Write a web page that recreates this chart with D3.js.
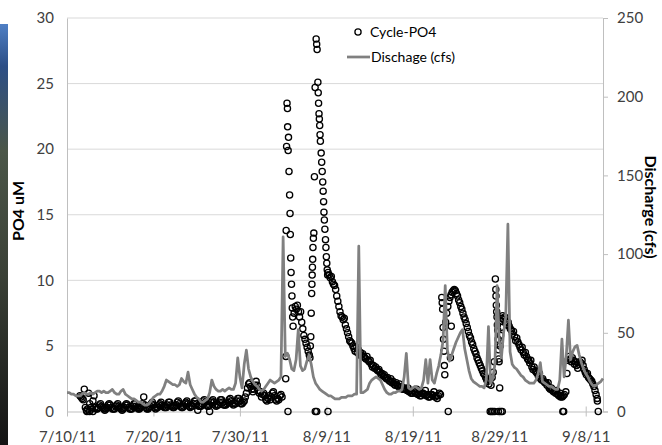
<!DOCTYPE html>
<html>
<head>
<meta charset="utf-8">
<script src="https://cdn.jsdelivr.net/npm/d3@7"></script>
<style>
  body { margin: 0; background: #fff; }
  text { font-family: Lato, "Open Sans", sans-serif; }
</style>
</head>
<body>
<svg id="chart" width="662" height="445"></svg>
<script>
// ---- data ----
const dateLabels = ["7/10/11", "7/20/11", "7/30/11", "8/9/11", "8/19/11", "8/29/11", "9/8/11"];
const po4Ticks = [0, 5, 10, 15, 20, 25, 30];
const flowTicks = [0, 50, 100, 150, 200, 250];

// discharge (cfs), one reading every 6 hours from 7/10/11 00:00
const flowStepHours = 6;
const discharge = [
  12, 12, 11, 11, 10, 10, 10, 11, 12, 11,
  11, 12, 11, 12, 13, 13, 12, 13, 12, 12,
  13, 14, 12, 11, 11, 13, 14, 11, 10, 9,
  8, 8, 7, 6, 6, 5, 4, 4, 5, 7,
  9, 10, 11, 11, 13, 16, 20, 19, 18, 17,
  17, 16, 17, 21, 19, 18, 25, 17, 14, 11,
  9, 8, 6, 6, 7, 8, 12, 20, 16, 14,
  13, 13, 14, 13, 14, 15, 14, 14, 18, 34,
  22, 15, 30, 39, 27, 22, 19, 17, 16, 14,
  13, 14, 16, 18, 20, 19, 18, 19, 20, 22,
  111, 35, 37, 33, 27, 26, 33, 52, 29, 26,
  27, 32, 36, 30, 22, 18, 16, 14, 13, 12,
  11, 10, 10, 9, 8, 8, 8, 9, 9, 9,
  10, 10, 10, 11, 11, 105, 12, 12, 13, 14,
  18, 20, 21, 22, 21, 20, 17, 14, 12, 11,
  11, 12, 12, 13, 13, 14, 22, 37, 15, 14,
  15, 16, 15, 14, 15, 20, 33, 18, 33, 20,
  18, 24, 29, 36, 45, 80, 39, 32, 36, 40,
  44, 47, 50, 52, 40, 33, 26, 21, 19, 18,
  17, 16, 16, 15, 20, 54, 18, 21, 30, 80,
  45, 34, 50, 60, 119, 38, 30, 28, 27, 25,
  23, 22, 20, 19, 18, 18, 18, 20, 24, 31,
  19, 18, 17, 16, 16, 15, 14, 14, 20, 46,
  22, 35, 58, 33, 38, 41, 42, 36, 31, 27,
  24, 22, 19, 17, 16, 17, 18, 19, 21
];

// Cycle-PO4 (uM), regular runs with one value every 3 hours
const po4StepHours = 3;

const po4JulyStart = 1.5;   // days after 7/10/11
const po4July = [
  1.2, 1.1, 1.0, 0.9, 1.7, 0.3, 0.1, 0.2,
  1.4, 0.6, 0.3, 0.2, 0.8, 1.2, 0.3, 0.2,
  0.2, 0.3, 0.5, 0.6, 0.4, 0.3, 0.2, 0.1,
  0.2, 0.3, 0.5, 0.6, 0.5, 0.3, 0.2, 0.2,
  0.2, 0.4, 0.5, 0.6, 0.4, 0.3, 0.2, 0.1,
  0.2, 0.3, 0.5, 0.6, 0.5, 0.3, 0.2, 0.2,
  0.2, 0.4, 0.6, 0.6, 0.4, 0.3, 0.2, 0.2,
  0.3, 0.4, 0.6, 1.1, 0.5, 0.3, 0.2, 0.2,
  0.3, 0.4, 0.6, 0.7, 0.5, 0.3, 0.2, 0.3,
  0.3, 0.5, 0.6, 0.7, 0.5, 0.4, 0.3, 0.3,
  0.3, 0.5, 0.7, 0.7, 0.5, 0.4, 0.3, 0.3,
  0.4, 0.5, 0.7, 0.8, 0.6, 0.4, 0.3, 0.3,
  0.4, 0.6, 0.7, 0.8, 0.6, 0.4, 0.3, 0.4,
  0.4, 0.6, 0.8, 0.8, 0.6, 0.1, 0.4, 0.4,
  0.4, 0.6, 0.8, 0.9, 0.7, 0.5, 0.4, 0.4,
  0.5, 0.7, 0.8, 0.9, 0.7, 0.5, 0.4, 0.5,
  0.5, 0.7, 0.9, 0.9, 0.7, 0.5, 0.5, 0.5,
  0.6, 0.7, 0.9, 1.0, 0.8, 0.6, 0.5, 0.6,
  0.6, 0.8, 1.0, 1.0, 0.8, 0.6, 0.6, 0.7,
  0.8, 1.1, 1.4, 1.8, 2.1, 2.2, 1.9, 1.7,
  1.5, 1.7, 2.0, 2.3, 2.0, 1.6, 1.4, 1.5,
  1.1, 1.3, 1.4, 1.2, 0.9, 0.8, 1.0, 1.2,
  0.9, 1.1, 1.4, 1.5, 1.2, 0.9, 0.8, 1.0,
  0.9, 1.2, 1.3, 1.1
];

const po4Aug5Start = 26.15;
const po4Aug5 = [
  6.5, 7.5, 8.0, 7.8, 8.1, 7.6, 7.2, 7.6,
  6.8, 6.3, 5.8, 5.5, 5.2, 4.9, 4.6, 4.3
];

const po4Aug9Start = 30.2;
const po4Aug9 = [
  10.6, 10.4, 10.2, 10.3, 9.9, 9.7, 9.6, 9.3,
  8.8, 8.4, 8.0, 7.6, 7.3, 7.2, 7.0, 7.1,
  6.6, 6.3, 6.0, 5.7, 5.4, 5.3, 5.2, 5.0,
  4.8, 4.6, 4.9, 4.5, 4.7, 4.3, 4.5, 4.3,
  4.4, 4.2, 4.1, 4.0, 4.2, 3.9, 3.8, 3.9,
  3.6, 3.4, 3.5, 3.3, 3.4, 3.2, 3.1, 3.2,
  3.0, 2.8, 2.9, 2.7, 2.8, 2.6, 2.5, 2.6,
  2.4, 2.3, 2.5, 2.2, 2.3, 2.1, 2.0, 2.2,
  2.0, 1.9, 2.1, 1.8, 1.9, 1.7, 1.7, 1.8,
  1.7, 1.6, 1.8, 1.5, 1.6, 1.4, 1.4, 1.6,
  1.5, 1.4, 1.7, 1.3, 1.4, 1.2, 1.2, 1.4,
  1.4, 1.3, 1.6, 1.2, 1.3, 1.1, 1.1, 1.3,
  1.3, 1.2, 1.5, 1.1, 1.2, 1.0, 1.2, 1.4,
  1.3
];

const po4Aug22Start = 43.8;
const po4Aug22 = [
  6.8, 7.5, 8.0, 8.4, 8.7, 8.9, 9.1, 9.2,
  9.3, 9.2, 9.0, 8.8, 8.5, 8.3, 8.0, 7.8,
  7.5, 7.2, 7.0, 6.7, 6.4, 6.1, 5.8, 5.6,
  5.3, 5.1, 4.8, 4.6, 4.4, 4.1, 3.9, 3.7,
  3.5, 3.3, 3.1, 2.9, 2.8, 2.6, 2.4, 2.3,
  2.1, 2.4, 2.0, 2.6, 3.0, 3.8
];

const po4Aug29Start = 50.4;
const po4Aug29 = [
  7.3, 7.0, 7.2, 6.8, 6.6, 6.8, 6.5, 6.3,
  6.2, 5.9, 6.1, 5.7, 5.4, 5.6, 5.3, 5.1,
  4.9, 4.7, 4.9, 4.5, 4.3, 4.5, 4.2, 4.0,
  3.9, 3.7, 3.9, 3.4, 3.2, 3.4, 3.1, 3.0,
  2.9, 2.7, 2.9, 2.5, 2.4, 2.5, 2.3, 2.2,
  2.2, 2.0, 2.2, 1.8, 1.7, 1.8, 1.6, 1.5,
  1.6, 1.4, 1.6, 1.3, 1.2, 1.4, 1.2, 1.1,
  1.2, 1.3
];

const po4Sep5Start = 57.7;
const po4Sep5 = [
  1.5, 2.9, 3.9, 4.2, 4.0, 3.8, 4.1, 3.9,
  3.6, 3.8, 3.5, 3.3, 3.6, 3.8, 3.7, 3.9,
  3.5, 3.2, 3.0, 2.8, 2.9, 2.6, 2.5, 2.4,
  2.3, 2.1, 1.9, 1.6, 1.3, 1.0
];

// fast-changing storm samples, [days after 7/10/11, uM]
const po4Storms = [
  [25.30, 2.5], [25.32, 4.2], [25.35, 13.8], [25.40, 20.2], [25.45, 23.5], [25.50, 23.1], [25.52, 21.7],
  [25.58, 19.9], [25.62, 20.9], [25.68, 18.3], [25.75, 16.5], [25.80, 15.1], [25.83, 13.5], [25.88, 11.7],
  [25.92, 10.6], [25.97, 9.7], [26.02, 8.8], [26.06, 7.9], [26.10, 7.2],
  [28.10, 4.1], [28.15, 5.0], [28.20, 5.7], [28.25, 7.5], [28.30, 9.0], [28.33, 9.7], [28.36, 10.4],
  [28.39, 11.0], [28.42, 11.6], [28.45, 12.5], [28.50, 13.2], [28.55, 13.6], [28.62, 17.9], [28.70, 24.7],
  [28.82, 28.4], [28.88, 28.0], [28.93, 27.6], [29.02, 25.1], [29.06, 24.3], [29.10, 23.5], [29.15, 22.7],
  [29.19, 22.3], [29.23, 21.8], [29.27, 21.1], [29.31, 20.6], [29.40, 19.7], [29.46, 19.0], [29.52, 18.3],
  [29.58, 17.5], [29.63, 16.8], [29.68, 16.0], [29.72, 15.2], [29.77, 14.6], [29.83, 13.9], [29.90, 13.1],
  [29.95, 12.5], [30.00, 11.8], [30.05, 11.3], [30.10, 10.8], [30.15, 10.4],
  [43.35, 8.7], [43.40, 8.3], [43.45, 7.8], [43.50, 6.4], [43.55, 5.5], [43.60, 4.6], [43.65, 3.5],
  [43.70, 2.8], [44.35, 4.1], [44.45, 6.5],
  [49.55, 10.1], [49.60, 9.3], [49.62, 8.8], [49.66, 8.1], [49.70, 7.6], [49.74, 7.2], [49.78, 6.6],
  [49.82, 6.2], [49.86, 5.5], [49.90, 4.7], [49.94, 4.0], [49.98, 3.8], [50.05, 1.8], [50.10, 5.0],
  [50.15, 5.8], [50.20, 6.4], [50.25, 6.9], [50.30, 7.1],
  [57.10, 1.1], [61.35, 0.8]
];

// samples that read zero (days after 7/10/11)
const po4ZeroDays = [2.3, 2.6, 3.0, 16.5, 25.56, 28.72, 28.88, 30.19, 44.1,
  48.95, 49.1, 49.25, 49.45, 49.9, 50.2, 50.35, 57.35, 57.45, 61.45];

// ---- build series ----
const t0 = new Date(2011, 6, 10);
const dayMs = 864e5;
const atDay = d => new Date(t0.getTime() + d * dayMs);

const flowData = discharge.map((v, i) => ({ date: atDay(i * flowStepHours / 24), v }));

const po4Runs = [
  [po4JulyStart, po4July], [po4Aug5Start, po4Aug5], [po4Aug9Start, po4Aug9],
  [po4Aug22Start, po4Aug22], [po4Aug29Start, po4Aug29], [po4Sep5Start, po4Sep5]
];
const po4Data = [];
po4Runs.forEach(([start, vals]) => {
  vals.forEach((v, i) => po4Data.push({ date: atDay(start + i * po4StepHours / 24), v }));
});
po4Storms.forEach(([d, v]) => po4Data.push({ date: atDay(d), v }));
po4ZeroDays.forEach(d => po4Data.push({ date: atDay(d), v: 0 }));

// ---- chart ----
const svg = d3.select("#chart");
const plot = { left: 67, right: 603, top: 18, bottom: 411.5 };

// slide background peeking in at the left edge
const grad = svg.append("defs").append("linearGradient")
  .attr("id", "edge").attr("x1", 0).attr("y1", 0).attr("x2", 0).attr("y2", 1);
[["0%", "#4f7fc4"], ["10%", "#2d4f86"], ["30%", "#4b5648"], ["60%", "#3a4036"], ["100%", "#141414"]]
  .forEach(([o, c]) => grad.append("stop").attr("offset", o).attr("stop-color", c));
svg.append("rect").attr("x", 0).attr("y", 24).attr("width", 8).attr("height", 421)
  .attr("fill", "url(#edge)");

const x = d3.scaleTime()
  .domain([t0, new Date(2011, 8, 10)])
  .range([plot.left, plot.right]);

const yP = d3.scaleLinear().domain([0, 30]).range([plot.bottom, plot.top]);
const yF = d3.scaleLinear().domain([0, 250]).range([plot.bottom, plot.top]);

const parseDate = d3.timeParse("%m/%d/%y");
const fmt = d3.timeFormat("%-m/%-d/%y");

// gridlines
svg.append("g")
  .selectAll("line")
  .data(po4Ticks.slice(1))
  .enter().append("line")
  .attr("x1", plot.left).attr("x2", plot.right)
  .attr("y1", d => yP(d)).attr("y2", d => yP(d))
  .attr("stroke", "#d9d9d9").attr("stroke-width", 1);

// left axis
svg.append("g")
  .attr("transform", `translate(${plot.left},0)`)
  .call(d3.axisLeft(yP).tickValues(po4Ticks).tickSize(0).tickPadding(13))
  .call(g => g.select(".domain").attr("stroke", "#bfbfbf"))
  .call(g => g.selectAll("text").attr("font-size", 15).attr("fill", "#404040")
    .attr("font-family", "Lato, sans-serif"));

// right axis
svg.append("g")
  .attr("transform", `translate(${plot.right},0)`)
  .call(d3.axisRight(yF).tickValues(flowTicks).tickSize(5).tickPadding(9))
  .call(g => g.select(".domain").attr("stroke", "#bfbfbf"))
  .call(g => g.selectAll(".tick line").attr("stroke", "#bfbfbf"))
  .call(g => g.selectAll("text").attr("font-size", 15).attr("fill", "#404040")
    .attr("font-family", "Lato, sans-serif"));

// bottom axis
svg.append("g")
  .attr("transform", `translate(0,${plot.bottom})`)
  .call(d3.axisBottom(x).tickValues(dateLabels.map(parseDate)).tickFormat(fmt).tickSize(5).tickSizeOuter(0))
  .call(g => g.select(".domain").attr("stroke", "#bfbfbf"))
  .call(g => g.selectAll(".tick line").attr("stroke", "#bfbfbf").attr("y1", -5))
  .call(g => g.selectAll("text").attr("font-size", 15).attr("fill", "#404040")
    .attr("font-family", "Lato, sans-serif").attr("y", 30.5).attr("dy", 0));

// PO4 points
svg.append("g")
  .selectAll("circle")
  .data(po4Data)
  .enter().append("circle")
  .attr("cx", d => x(d.date))
  .attr("cy", d => yP(d.v))
  .attr("r", 3.1)
  .attr("fill", "none")
  .attr("stroke", "#000")
  .attr("stroke-width", 1.3);

// discharge line
svg.append("path")
  .datum(flowData)
  .attr("fill", "none")
  .attr("stroke", "#808080")
  .attr("stroke-width", 2.75)
  .attr("stroke-linejoin", "round")
  .attr("d", d3.line().x(d => x(d.date)).y(d => yF(d.v)));

// axis titles
svg.append("text")
  .attr("transform", "translate(24,211) rotate(-90)")
  .attr("text-anchor", "middle")
  .attr("font-size", 16).attr("font-weight", "bold")
  .text("PO4 uM");

svg.append("text")
  .attr("transform", "translate(645,207) rotate(90)")
  .attr("text-anchor", "middle")
  .attr("font-size", 16).attr("font-weight", "bold")
  .text("Discharge (cfs)");

// legend
const legend = svg.append("g");
legend.append("circle").attr("cx", 358).attr("cy", 32).attr("r", 3.1)
  .attr("fill", "none").attr("stroke", "#000").attr("stroke-width", 1.3);
legend.append("text").attr("x", 370).attr("y", 37).attr("font-size", 14).text("Cycle-PO4");
legend.append("line").attr("x1", 347).attr("x2", 370).attr("y1", 57).attr("y2", 57)
  .attr("stroke", "#808080").attr("stroke-width", 2.75);
legend.append("text").attr("x", 371).attr("y", 62).attr("font-size", 14).text("Dischage (cfs)");
</script>
</body>
</html>
